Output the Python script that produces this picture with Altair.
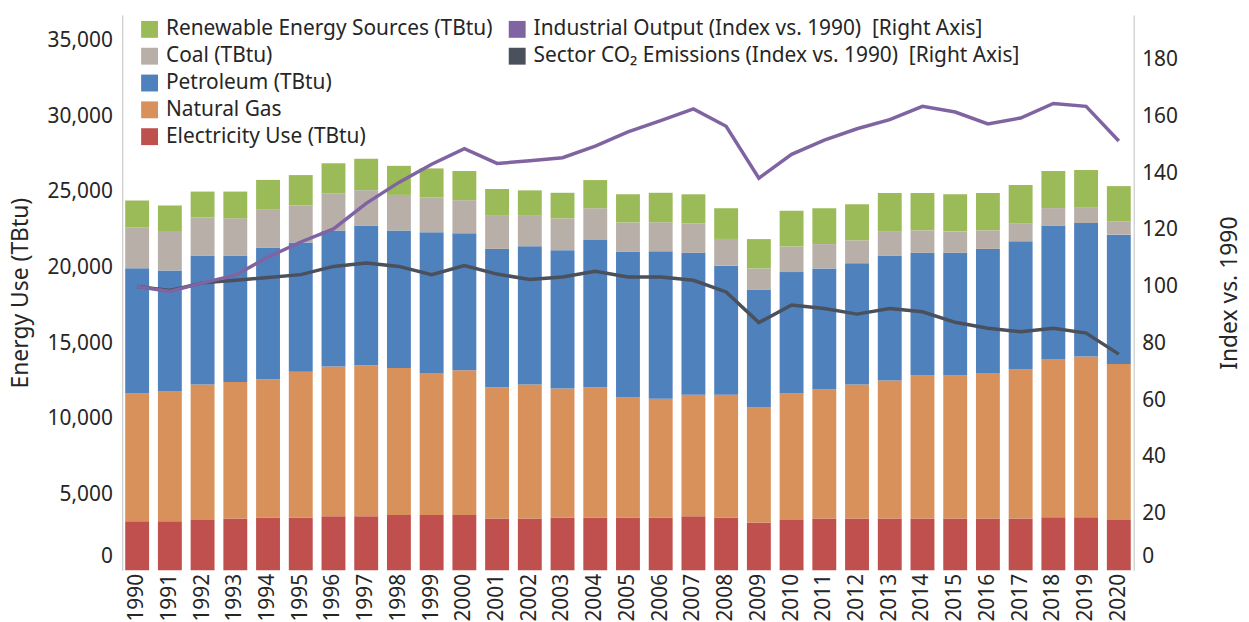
import altair as alt
import pandas as pd

years = list(range(1990, 2021))

series_names = ["Renewable Energy Sources (TBtu)", "Coal (TBtu)", "Petroleum (TBtu)",
                "Natural Gas", "Electricity Use (TBtu)"]
series_colors = ["#9BBB59", "#B9AFA9", "#4F81BD", "#D9915C", "#C0504D"]

electricity = [3250, 3250, 3330, 3420, 3490, 3490, 3580, 3580, 3660, 3660, 3660, 3420, 3420,
               3490, 3490, 3490, 3490, 3580, 3490, 3160, 3330, 3420, 3420, 3420, 3420, 3420,
               3420, 3420, 3510, 3510, 3330]
natural_gas = [8440, 8610, 8950, 9030, 9140, 9640, 9890, 9970, 9710, 9380, 9560, 8680, 8860,
               8530, 8610, 7940, 7850, 8020, 8110, 7610, 8360, 8530, 8860, 9120, 9450, 9450,
               9620, 9860, 10450, 10630, 10300]
petroleum = [8270, 7960, 8530, 8360, 8680, 8530, 8990, 9230, 9080, 9300, 9050, 9140, 9140,
             9140, 9730, 9640, 9740, 9380, 8530, 7760, 8020, 8000, 8020, 8270, 8110, 8110,
             8200, 8460, 8820, 8810, 8550]
coal = [2710, 2600, 2530, 2450, 2560, 2450, 2430, 2340, 2360, 2300, 2190, 2190, 2010, 2100,
        2100, 1920, 1920, 1950, 1770, 1420, 1690, 1610, 1510, 1610, 1490, 1420, 1230, 1200,
        1160, 1050, 870]
renewable = [1770, 1690, 1690, 1770, 1930, 2010, 2010, 2080, 1920, 1920, 1930, 1770, 1680,
             1690, 1860, 1860, 1950, 1920, 2030, 1940, 2360, 2360, 2380, 2520, 2470, 2450,
             2470, 2520, 2450, 2450, 2340]

line_names = ["Industrial Output (Index vs. 1990)\u00a0 [Right Axis]",
              "Sector CO\u2082 Emissions (Index vs. 1990)\u00a0 [Right Axis]"]
line_colors = ["#8064A2", "#4A505C"]
industrial = [100, 98.3, 101.3, 104, 110.4, 115.7, 120.3, 129.3, 136.7, 143.1, 148.6, 143.4,
              144.3, 145.4, 149.5, 154.5, 158.5, 162.6, 156.5, 138.2, 146.6, 151.6, 155.6,
              158.8, 163.5, 161.5, 157.3, 159.4, 164.5, 163.5, 151.3]
co2 = [100, 98.6, 101.3, 102.2, 103.2, 104.2, 107.1, 108.3, 107.1, 104.2, 107.4, 104.4, 102.5,
       103.4, 105.4, 103.4, 103.4, 102.2, 98.1, 87.3, 93.5, 92.3, 90.3, 92.3, 91.1, 87.4, 85.3,
       84.1, 85.3, 83.6, 76.2]

left_ticks = [0, 5000, 10000, 15000, 20000, 25000, 30000, 35000]
right_ticks = [0, 20, 40, 60, 80, 100, 120, 140, 160, 180]

# ---- tables ----
stack_src = [(electricity, series_names[4], 0), (natural_gas, series_names[3], 1),
             (petroleum, series_names[2], 2), (coal, series_names[1], 3),
             (renewable, series_names[0], 4)]
rows = []
for i, yr in enumerate(years):
    for vals, name, order in stack_src:
        rows.append({"year": str(yr), "series": name, "value": vals[i], "order": order})
bars_df = pd.DataFrame(rows)

line_rows = []
for i, yr in enumerate(years):
    line_rows.append({"year": str(yr), "series": line_names[1], "index": co2[i]})
    line_rows.append({"year": str(yr), "series": line_names[0], "index": industrial[i]})
lines_df = pd.DataFrame(line_rows)

W, H = 1018, 559
TXT = "#262626"
FONT = "Noto Sans"

zero_offset = {"condition": {"test": "datum.value === 0", "value": -14}, "value": 0}

x_enc = alt.X("year:O", title=None,
              scale=alt.Scale(paddingInner=0.27, paddingOuter=0.09),
              axis=alt.Axis(labelAngle=270, domain=False, ticks=False, labelPadding=3,
                            labelFontSize=21, labelFont=FONT, labelColor=TXT))

legend_common = dict(title=None, orient="none", symbolType="square", symbolSize=289,
                     rowPadding=5, labelOffset=6, labelLimit=0, padding=0,
                     symbolStrokeWidth=0, symbolOpacity=1)

bars = alt.Chart(bars_df).mark_bar().encode(
    x=x_enc,
    y=alt.Y("value:Q", stack="zero",
            scale=alt.Scale(domain=[0, 36700], nice=False),
            axis=alt.Axis(values=left_ticks, format=",.0f", title="Energy Use (TBtu)",
                          domainColor="#BFBFBF", ticks=False, grid=False, labelPadding=10,
                          labelOffset=zero_offset,
                          titleX=-102, titleY=H / 2, titleAngle=270, titleBaseline="middle",
                          titleAlign="center")),
    color=alt.Color("series:N",
                    scale=alt.Scale(domain=series_names, range=series_colors),
                    legend=alt.Legend(legendX=17, legendY=4, **legend_common)),
    order=alt.Order("order:Q"),
)

y_right = alt.Y("index:Q",
                scale=alt.Scale(domain=[0, 195.7], nice=False),
                axis=alt.Axis(orient="right", values=right_ticks, title="Index vs. 1990",
                              domainColor="#BFBFBF", ticks=False, grid=False, labelPadding=8,
                              labelOffset=zero_offset,
                              titleX=96, titleY=H / 2, titleAngle=270, titleBaseline="middle",
                              titleAlign="center"))

co2_line = alt.Chart(lines_df).transform_filter(
    alt.datum.series == line_names[1]
).mark_line(strokeWidth=3.5, color=line_colors[1]).encode(x=x_enc, y=y_right)

ind_line = alt.Chart(lines_df).transform_filter(
    alt.datum.series == line_names[0]
).mark_line(strokeWidth=3.5, color=line_colors[0]).encode(x=x_enc, y=y_right)

legend_sq = alt.Chart(lines_df).transform_filter("false").mark_square(opacity=1).encode(
    x=x_enc, y=y_right,
    fill=alt.Fill("series:N",
                  scale=alt.Scale(domain=line_names, range=line_colors),
                  legend=alt.Legend(legendX=387, legendY=4, **legend_common)),
)

chart = alt.layer(bars, alt.layer(co2_line, ind_line, legend_sq)).resolve_scale(
    y="independent"
).properties(
    width=W, height=H,
    autosize=alt.AutoSizeParams(type="none"),
    padding={"left": 115, "top": 5, "right": 108, "bottom": 56},
).configure_view(stroke=None).configure_axis(
    labelFont=FONT, labelFontSize=21, labelColor=TXT,
    titleFont=FONT, titleFontSize=23, titleFontWeight="normal", titleColor=TXT,
).configure_legend(
    labelFont=FONT, labelFontSize=21, labelColor=TXT,
)

chart.save("out.html", embed_options={"renderer": "svg", "actions": False})
